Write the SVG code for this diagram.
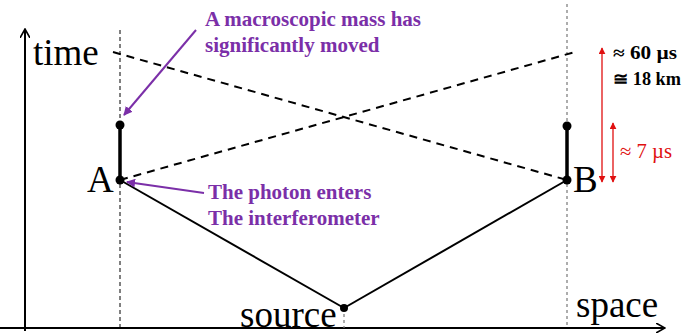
<svg xmlns="http://www.w3.org/2000/svg" width="686" height="334" viewBox="0 0 686 334">
<defs>
<style>
.big{font-family:"Liberation Serif",serif;font-size:37px;fill:#000}
.pur{font-family:"Liberation Serif",serif;font-size:21px;font-weight:bold;fill:#7b2fa8}
.blk{font-family:"Liberation Serif",serif;font-size:18px;font-weight:bold;fill:#000}
.red{font-family:"Liberation Serif",serif;font-size:20px;fill:#e01010}
.axis{stroke:#000;stroke-width:2;fill:none}
.vdash{stroke:#000;stroke-width:1;stroke-dasharray:4 3;fill:none}
.vdot{stroke:#777;stroke-width:1.2;stroke-dasharray:3 3;fill:none}
.dash{stroke:#000;stroke-width:2;stroke-dasharray:8 6;fill:none}
.solid{stroke:#000;stroke-width:2;fill:none}
.thick{stroke:#000;stroke-width:3.5;fill:none}
.parr{stroke:#7b2fa8;stroke-width:2;fill:none}
.rarr{stroke:#e01010;stroke-width:1.3;fill:none}
</style>
<marker id="ah" viewBox="0 0 10 10" refX="9" refY="5" markerWidth="10" markerHeight="10" markerUnits="userSpaceOnUse" orient="auto"><path d="M0,0 L9,5 L0,10" fill="none" stroke="#000" stroke-width="1.6"/></marker>
<marker id="ph" viewBox="0 0 10 10" refX="9" refY="5" markerWidth="9" markerHeight="9" markerUnits="userSpaceOnUse" orient="auto"><path d="M0,0 L10,5 L0,10 Z" fill="#7b2fa8"/></marker>
<marker id="rh" viewBox="0 0 10 10" refX="9" refY="5" markerWidth="7" markerHeight="7" markerUnits="userSpaceOnUse" orient="auto-start-reverse"><path d="M0,0 L10,5 L0,10 Z" fill="#e01010"/></marker>
</defs>
<g id="connectors">
<line class="axis" x1="25" y1="331" x2="25" y2="29" marker-end="url(#ah)"/>
<line class="axis" x1="0" y1="328" x2="665" y2="328" marker-end="url(#ah)"/>
<line class="vdash" x1="120" y1="30" x2="120" y2="328"/>
<line class="vdot" x1="567" y1="4" x2="567" y2="328"/>
<line class="vdot" x1="344" y1="308" x2="344" y2="328"/>
<line class="dash" x1="113" y1="52" x2="567" y2="180"/>
<line class="dash" x1="120" y1="180" x2="575" y2="52"/>
<line class="solid" x1="120" y1="180" x2="344" y2="308"/>
<line class="solid" x1="344" y1="308" x2="567" y2="180"/>
<line class="thick" x1="120" y1="125" x2="120" y2="180"/>
<line class="thick" x1="567" y1="126" x2="567" y2="180"/>
<line class="parr" x1="196" y1="30" x2="124" y2="115" marker-end="url(#ph)"/>
<line class="parr" x1="204" y1="193" x2="127" y2="182" marker-end="url(#ph)"/>
<line class="rarr" x1="602" y1="48" x2="602" y2="182" marker-start="url(#rh)" marker-end="url(#rh)"/>
<line class="rarr" x1="613" y1="123" x2="613" y2="182" marker-start="url(#rh)" marker-end="url(#rh)"/>
</g>
<g id="axis-time"><text class="big" x="33" y="65">time</text></g>
<g id="axis-space"><text class="big" x="576" y="317">space</text></g>
<g id="node-A"><circle cx="120" cy="125" r="4.5"/><circle cx="120" cy="180" r="4.5"/><text class="big" x="87" y="192">A</text></g>
<g id="node-B"><circle cx="567" cy="126" r="4.5"/><circle cx="567" cy="180" r="4.5"/><text class="big" x="573" y="192">B</text></g>
<g id="node-source"><circle cx="344" cy="308" r="4"/><text class="big" x="240" y="327">source</text></g>
<g id="label-mass"><text class="pur" x="205" y="26">A macroscopic mass has</text><text class="pur" x="205" y="52">significantly moved</text></g>
<g id="label-photon"><text class="pur" x="208" y="199">The photon enters</text><text class="pur" x="208" y="225">The interferometer</text></g>
<g id="label-times"><text class="blk" x="613" y="59" textLength="64" lengthAdjust="spacingAndGlyphs">≈ 60 µs</text><text class="blk" x="613" y="85" textLength="68" lengthAdjust="spacingAndGlyphs">≅ 18 km</text><text class="red" x="620" y="158" textLength="52" lengthAdjust="spacingAndGlyphs">≈ 7 µs</text></g>
</svg>
